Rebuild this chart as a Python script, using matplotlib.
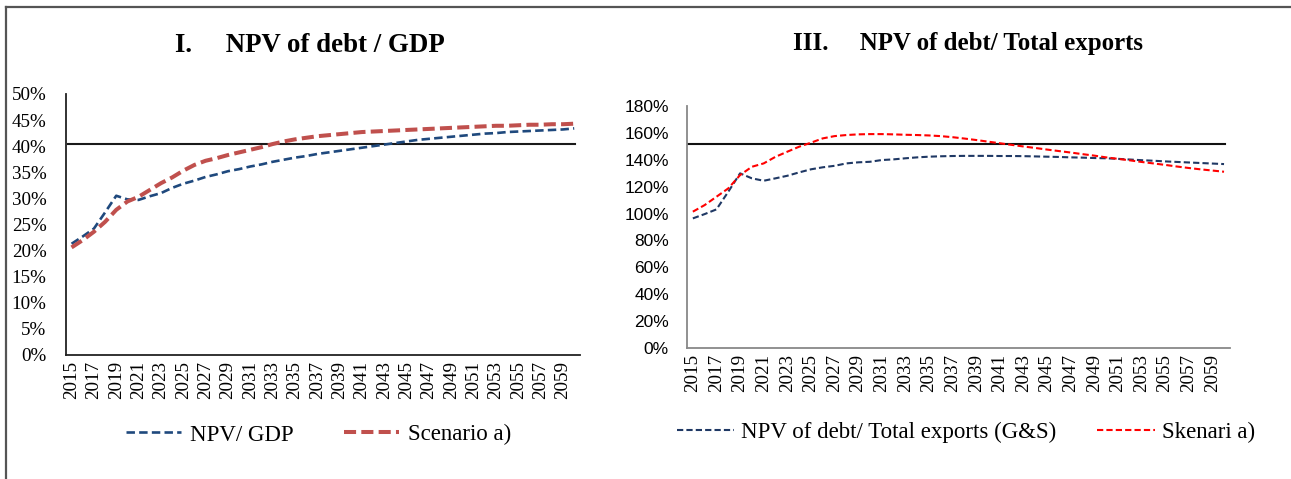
import numpy as np
import matplotlib.pyplot as plt
from matplotlib.lines import Line2D

years = list(range(2015, 2061))

# I. NPV of debt / GDP (%)
npv_gdp = [21.3, 22.7, 24.2, 27.3, 30.5, 29.8, 29.7, 30.4, 31.0, 32.0,
           32.8, 33.4, 34.1, 34.6, 35.2, 35.6, 36.1, 36.5, 37.0, 37.4,
           37.8, 38.1, 38.5, 38.8, 39.1, 39.4, 39.7, 40.0, 40.3, 40.6,
           40.9, 41.2, 41.4, 41.6, 41.8, 42.0, 42.2, 42.4, 42.5, 42.7,
           42.8, 42.9, 43.0, 43.1, 43.2, 43.4]
scen_gdp = [20.6, 22.0, 23.6, 25.5, 27.8, 29.4, 30.3, 31.6, 32.9, 34.0,
            35.3, 36.4, 37.2, 37.7, 38.3, 38.8, 39.3, 39.8, 40.4, 40.9,
            41.3, 41.6, 41.9, 42.1, 42.3, 42.5, 42.7, 42.8, 42.9, 43.0,
            43.1, 43.2, 43.3, 43.4, 43.5, 43.6, 43.7, 43.8, 43.9, 43.9,
            44.0, 44.1, 44.1, 44.2, 44.2, 44.3]
thr_gdp = 40.5

# III. NPV of debt / Total exports (%)
npv_exp = [96.4, 99.6, 103.1, 116.2, 129.9, 126.2, 124.4, 126.2, 128.1, 130.6,
           132.9, 134.4, 135.5, 137.3, 138.1, 138.5, 139.8, 140.3, 141.1, 141.8,
           142.3, 142.6, 142.8, 142.9, 142.9, 142.9, 142.8, 142.8, 142.7, 142.5,
           142.3, 142.1, 141.8, 141.6, 141.3, 141.1, 140.7, 140.2, 139.7, 139.3,
           138.8, 138.4, 138.0, 137.6, 137.2, 136.8]
scen_exp = [101.4, 106.3, 112.5, 118.7, 128.6, 134.8, 137.3, 142.2, 146.0, 149.7,
            152.7, 155.9, 157.6, 158.4, 158.9, 159.1, 159.1, 158.9, 158.6, 158.4,
            158.1, 157.6, 156.8, 155.8, 154.7, 153.5, 152.3, 151.1, 149.9, 148.8,
            147.6, 146.5, 145.4, 144.2, 143.1, 141.8, 140.7, 139.6, 138.4, 137.3,
            136.2, 135.0, 133.9, 132.9, 132.0, 131.1]
thr_exp = 151.5

SERIF = 'Liberation Serif'
SANS = 'Liberation Sans'

fig = plt.figure(figsize=(12.91, 4.79), dpi=100)

# outer frame (only left and top edges are visible in the crop)
fig.add_artist(Line2D([0.0046, 0.0046], [0, 0.986], transform=fig.transFigure, color='#555555', lw=1.6))
fig.add_artist(Line2D([0.0046, 1], [0.986, 0.986], transform=fig.transFigure, color='#555555', lw=1.6))

x = np.arange(len(years))
xlabels = [str(y) if (y - 2015) % 2 == 0 else '' for y in years]


def setup(ax, ymax, ystep, spine_color, yfont, ysize, ypad):
  ax.set_xlim(-0.5, len(years) - 0.5)
  ax.set_ylim(0, ymax)
  ax.set_xticks(x)
  ax.set_xticklabels(xlabels, rotation=90, fontname=SERIF, fontsize=13.7)
  yt = np.arange(0, ymax + 0.1, ystep)
  ax.set_yticks(yt)
  ax.set_yticklabels([f'{int(v)}%' for v in yt], fontname=yfont, fontsize=ysize)
  ax.tick_params(axis='x', length=0, pad=4)
  ax.tick_params(axis='y', length=0, pad=ypad)
  for s in ['top', 'right']:
    ax.spines[s].set_visible(False)
  for s in ['left', 'bottom']:
    ax.spines[s].set_color(spine_color)
    ax.spines[s].set_linewidth(1.3)


# left panel
ax1 = fig.add_axes([0.0511, 0.2589, 0.398, 0.545])
setup(ax1, 50, 5, '#222222', SERIF, 13.7, 14)
ax1.axhline(thr_gdp, xmin=0.004, xmax=0.99, color='#1a1a1a', lw=1.5)
ax1.plot(x, npv_gdp, color='#1F497D', lw=1.9, linestyle=(0, (3.2, 1.6)), label='NPV/ GDP')
ax1.plot(x, scen_gdp, color='#C0504D', lw=2.9, linestyle=(0, (3.0, 1.3)), label='Scenario a)')
fig.text(0.24, 0.905, 'I.     NPV of debt / GDP', ha='center', va='center',
         fontname=SERIF, fontsize=19.4, fontweight='bold')
fig.legend(handles=ax1.get_lines()[1:], loc='center', bbox_to_anchor=(0.247, 0.092), ncol=2,
           frameon=False, prop={'family': SERIF, 'size': 16.5},
           handlelength=2.4, handletextpad=0.4, columnspacing=2.2)

# right panel
ax2 = fig.add_axes([0.5321, 0.2735, 0.4206, 0.5052])
setup(ax2, 180, 20, '#888888', SANS, 12.5, 13)
ax2.axhline(thr_exp, xmin=0.0, xmax=0.99, color='#111111', lw=1.5)
ax2.plot(x, npv_exp, color='#1F3864', lw=1.5, linestyle=(0, (3.0, 1.5)),
         label='NPV of debt/ Total exports (G&S)')
ax2.plot(x, scen_exp, color='#FF0000', lw=1.5, linestyle=(0, (3.0, 1.5)), label='Skenari a)')
fig.text(0.75, 0.91, 'III.     NPV of debt/ Total exports', ha='center', va='center',
         fontname=SERIF, fontsize=17.9, fontweight='bold')
fig.legend(handles=ax2.get_lines()[1:], loc='center', bbox_to_anchor=(0.748, 0.098), ncol=2,
           frameon=False, prop={'family': SERIF, 'size': 16.5},
           handlelength=2.5, handletextpad=0.3, columnspacing=1.8)

fig.savefig('out.png', dpi=100)
